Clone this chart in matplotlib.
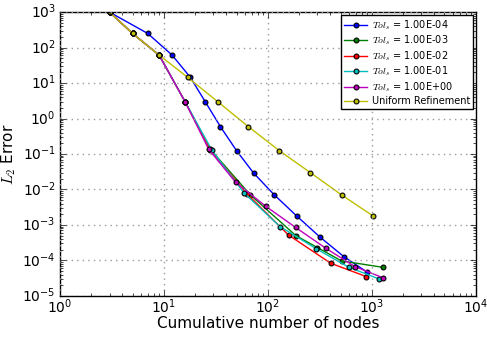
import matplotlib
matplotlib.use('Agg')
import matplotlib.pyplot as plt

plt.style.use('classic')
plt.rcParams['mathtext.fontset'] = 'cm'

# Cumulative number of nodes / L2 error for each tolerance
nodes_tol4 = [3, 7, 12, 18, 25, 35, 50, 73, 115, 189, 316, 538, 889]
err_tol4 = [1000, 250, 61.5, 14.4, 2.97, 0.59, 0.124, 0.029, 0.0071, 0.0018, 4.6e-4, 1.28e-4, 4.8e-5]

nodes_tol3 = [3, 5, 9, 16, 28, 68, 186, 300, 511, 1270]
err_tol3 = [1000, 250, 61.5, 2.97, 0.135, 0.007, 5.0e-4, 2.3e-4, 9.7e-5, 6.4e-5]

nodes_tol2 = [3, 5, 9, 16, 28, 63, 158, 403, 885]
err_tol2 = [1000, 250, 61.5, 2.97, 0.13, 0.0075, 5.2e-4, 8.3e-5, 3.5e-5]

nodes_tol1 = [3, 5, 9, 16, 29, 59, 131, 291, 601, 1175]
err_tol1 = [1000, 250, 61.5, 2.97, 0.127, 0.008, 9.0e-4, 2.15e-4, 6.4e-5, 3.0e-5]

nodes_tol0 = [3, 5, 9, 16, 27, 49, 95, 185, 361, 687, 1295]
err_tol0 = [1000, 250, 61.5, 2.97, 0.135, 0.016, 0.0034, 8.5e-4, 2.2e-4, 6.7e-5, 3.2e-5]

nodes_uniform = [3, 5, 9, 17, 33, 65, 129, 257, 513, 1025]
err_uniform = [1000, 250, 61.5, 14.4, 2.97, 0.59, 0.124, 0.0297, 0.007, 0.0018]

series = [
    (nodes_tol4, err_tol4, 'b', r'$Tol_s$ = 1.00E-04'),
    (nodes_tol3, err_tol3, 'g', r'$Tol_s$ = 1.00E-03'),
    (nodes_tol2, err_tol2, 'r', r'$Tol_s$ = 1.00E-02'),
    (nodes_tol1, err_tol1, 'c', r'$Tol_s$ = 1.00E-01'),
    (nodes_tol0, err_tol0, 'm', r'$Tol_s$ = 1.00E+00'),
    (nodes_uniform, err_uniform, 'y', 'Uniform Refinement'),
]

fig = plt.figure(figsize=(4.87, 3.37), dpi=100, facecolor='white')
ax = fig.add_axes([0.123, 0.122, 0.854, 0.842])

for x, y, c, lab in series:
    ax.plot(x, y, color=c, marker='o', markersize=3.5, markeredgecolor='k',
            markeredgewidth=0.8, linewidth=1, label=lab)

ax.set_xscale('log')
ax.set_yscale('log')
ax.set_xlim(1, 1e4)
ax.set_ylim(1e-5, 1e3)
ax.grid(True, which='major', color='0.6', linestyle=':', linewidth=1)
ax.tick_params(labelsize=10)
ax.tick_params(axis='x', pad=1)
ax.tick_params(axis='y', pad=3)
ax.set_xlabel('Cumulative number of nodes', fontsize=11, labelpad=0)
ax.set_ylabel(r'$L_2$ Error', fontsize=11, labelpad=3)

leg = ax.legend(loc='upper right', fontsize=7, numpoints=1, handlelength=2.3,
                borderaxespad=0.3, labelspacing=0.2, handletextpad=0.5,
                borderpad=0.3, fancybox=False)
leg.get_frame().set_linewidth(1)

fig.savefig('out.png', dpi=100, facecolor='white')
